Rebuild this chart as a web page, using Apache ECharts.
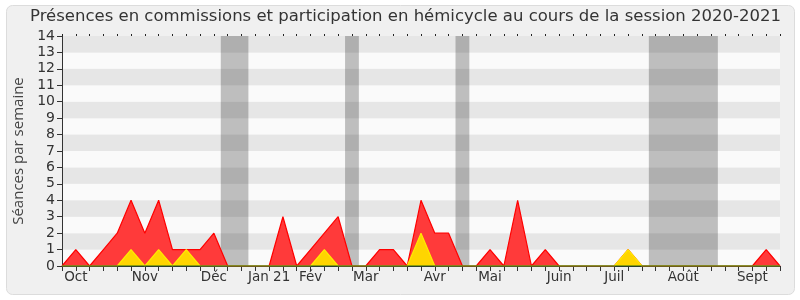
<!DOCTYPE html>
<html><head><meta charset="utf-8">
<script src="https://cdn.jsdelivr.net/npm/echarts@6/dist/echarts.min.js"></script>
<style>html,body{margin:0;padding:0;background:#fff}#c{width:800px;height:300px}</style>
</head><body><div id="c"></div>
<script>
// Week index 0..52 (Sept 2020 -> Sept 2021)
const monthLabels = ['', 'Oct', '', '', '', '', 'Nov', '', '', '', '', 'Déc', '', '', '', 'Jan 21', '', '', 'Fév', '', '', '', 'Mar', '', '', '', '', 'Avr', '', '', '', 'Mai', '', '', '', '', 'Juin', '', '', '', 'Juil', '', '', '', '', 'Août', '', '', '', '', 'Sept', '', ''];
const commissions = [0,1,0,1,2,4,2,4,1,1,1,2,0,0,0,0,3,0,1,2,3,0,0,1,1,0,4,2,2,0,0,1,0,4,0,1,0,0,0,0,0,1,0,0,0,0,0,0,0,0,0,1,0];
const hemicycle   = [0,0,0,0,0,1,0,1,0,1,0,0,0,0,0,0,0,0,0,1,0,0,0,0,0,0,2,0,0,0,0,0,0,0,0,0,0,0,0,0,0,1,0,0,0,0,0,0,0,0,0,0,0];
const questions   = [0,0,0,0,0,0,0,0,0,0,0,0,0,0,0,0,0,0,0,0,0,0,0,0,0,0,0,0,0,0,0,0,0,0,0,0,0,0,0,0,0,0,0,0,0,0,0,0,0,0,0,0,0];
const holidayStart = [11.5, 20.5, 28.5, 42.5];
const holidayEnd   = [13.5, 21.5, 29.5, 47.5];
const yTicks = [0,14,1];

const chart = echarts.init(document.getElementById('c'), null, {renderer:'canvas'});
const font = 'DejaVu Sans';
chart.setOption({
  backgroundColor: '#fff',
  animation: false,
  graphic: [{type:'rect', z:-10, shape:{x:6.5,y:5.5,width:788,height:289,r:6}, style:{fill:'#f0f0f0', stroke:'#dcdcdc', lineWidth:1}}],
  title: {text:'Présences en commissions et participation en hémicycle au cours de la session 2020-2021', left:25, top:3,
    textStyle:{fontFamily:font, fontSize:16.5, fontWeight:'normal', color:'#333'}},
  grid: {left:62, right:20, top:36, bottom:34},
  xAxis: [
    {type:'category', data: monthLabels, boundaryGap:false,
     axisLine:{show:true, lineStyle:{color:'#333'}},
     axisTick:{show:true, interval:0, length:5, lineStyle:{color:'#333'}},
     axisLabel:{interval:(i,v)=>v!=='', fontFamily:font, fontSize:13.5, color:'#333', margin:4},
     splitLine:{show:false}},
    {type:'category', data: monthLabels, boundaryGap:false, position:'top',
     axisLine:{show:false}, axisTick:{show:true, interval:0, length:2, lineStyle:{color:'#222'}},
     axisLabel:{show:false}},
    {type:'value', min:0, max:52, show:false}
  ],
  yAxis: {type:'value', min:yTicks[0], max:yTicks[1], interval:yTicks[2],
    name:'Séances par semaine', nameLocation:'middle', nameGap:32,
    nameTextStyle:{fontFamily:'Open Sans', fontSize:15, color:'#444'},
    axisLine:{show:true, lineStyle:{color:'#333'}},
    axisTick:{show:true, length:5, lineStyle:{color:'#333'}},
    axisLabel:{fontFamily:font, fontSize:14, color:'#333', margin:7},
    splitLine:{show:false},
    splitArea:{show:true, areaStyle:{color:['#fafafa','#e6e6e6']}}},
  series: [
    {type:'line', data:commissions, symbol:'none', z:2,
     lineStyle:{color:'#ff0000', width:1.2}, areaStyle:{color:'#ff3a3a', opacity:1}},
    {type:'line', data:hemicycle, symbol:'none', z:3,
     lineStyle:{color:'#ffea00', width:1.2}, areaStyle:{color:'#ffd500', opacity:1}},
    {type:'line', data:questions, symbol:'none', z:4,
     lineStyle:{color:'#1a6b1a', width:1.2}},
    {type:'line', xAxisIndex:2, data:[[0,0]], symbol:'none', z:10, lineStyle:{opacity:0},
     markArea:{silent:true, itemStyle:{color:'rgba(0,0,0,0.24)'},
       data: holidayStart.map((s,i)=>[{xAxis:s},{xAxis:holidayEnd[i]}])}}
  ]
});
</script></body></html>
